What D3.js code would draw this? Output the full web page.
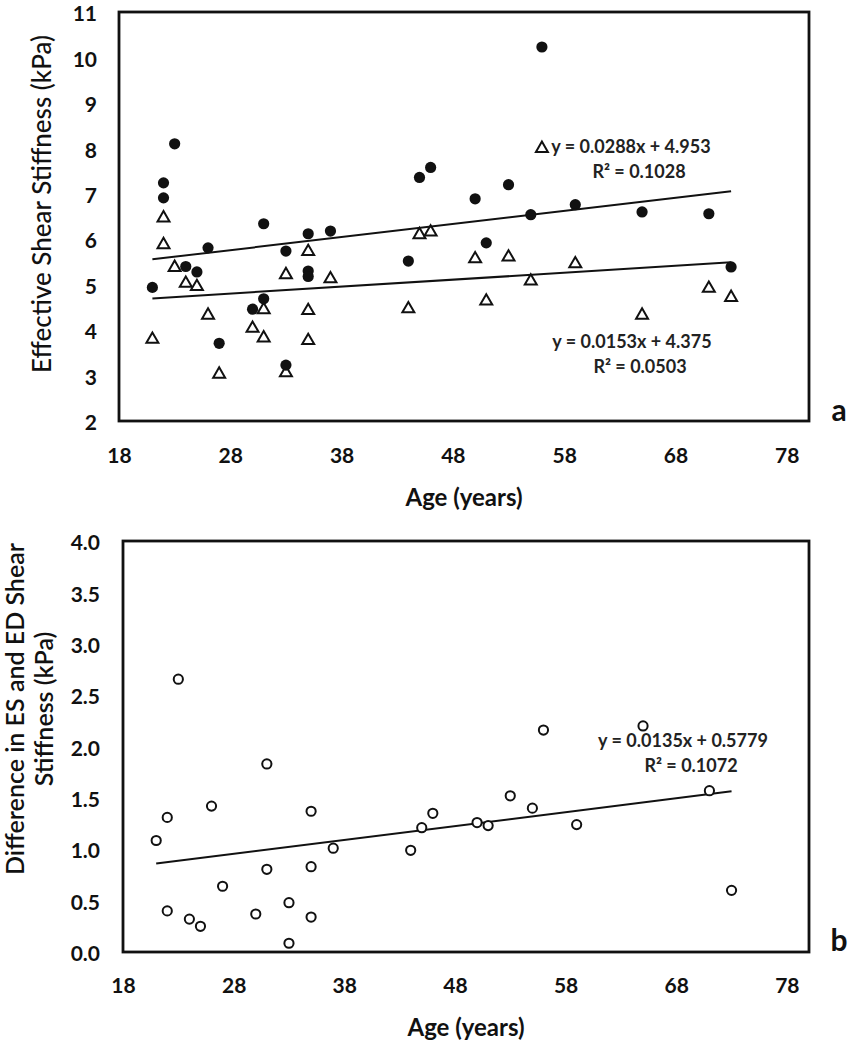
<!DOCTYPE html>
<html><head><meta charset="utf-8">
<script src="https://cdn.jsdelivr.net/npm/d3@7"></script>
<style>
html,body{margin:0;padding:0;background:#fff;}
svg{display:block;}
</style></head>
<body>
<svg id="c" width="860" height="1050"></svg>
<script>
// ---- data ----
const ages = [21,22,22,23,24,25,26,27,30,31,31,33,33,35,35,35,37,44,45,46,50,51,53,55,56,59,65,71,73];
const esStiffness = [4.94,7.24,6.91,8.10,5.40,5.28,5.81,3.71,4.46,6.34,4.69,5.74,3.23,6.12,5.30,5.18,6.18,5.52,7.36,7.58,6.89,5.92,7.20,6.54,10.23,6.76,6.60,6.56,5.39];
const edStiffness = [3.82,5.90,6.49,5.40,5.05,4.98,4.35,3.05,4.06,4.47,3.85,5.24,3.08,5.75,4.45,3.79,5.15,4.49,6.12,6.18,5.59,4.66,5.63,5.10,8.02,5.48,4.35,4.94,4.74];
const difference = [1.085,1.31,0.40,2.655,0.32,0.25,1.42,0.64,0.37,1.83,0.805,0.48,0.085,0.34,0.83,1.37,1.01,0.99,1.21,1.35,1.26,1.23,1.52,1.40,2.16,1.24,2.20,1.57,0.60];
const xTicks = [18,28,38,48,58,68,78];
const yTicksTop = [2,3,4,5,6,7,8,9,10,11];
const yTicksBottom = [0,0.5,1,1.5,2,2.5,3,3.5,4];
const fitES = {slope:0.0288, intercept:4.953, label1:"y = 0.0288x + 4.953", label2:"R² = 0.1028"};
const fitED = {slope:0.0153, intercept:4.375, label1:"y = 0.0153x + 4.375", label2:"R² = 0.0503"};
const fitDiff = {slope:0.0135, intercept:0.5779, label1:"y = 0.0135x + 0.5779", label2:"R² = 0.1072"};

const svg = d3.select("#c");
const FONT = "Lato, 'Open Sans', sans-serif";
const INK = "#111";

function panel(opt){
  const x = d3.scaleLinear().domain([18,80]).range([opt.left, opt.right]);
  const y = d3.scaleLinear().domain(opt.ydom).range([opt.bottom, opt.top]);
  const g = svg.append("g");
  const xa = g.append("g").attr("transform",`translate(0,${opt.xLabelY})`)
    .call(d3.axisBottom(x).tickValues(xTicks).tickSize(0).tickPadding(0).tickFormat(d3.format("d")));
  xa.select(".domain").remove();
  xa.selectAll("text").attr("font-family",FONT).attr("font-weight","bold").attr("font-size",21).attr("fill",INK).attr("dy","0.35em");
  const ya = g.append("g").attr("transform",`translate(${opt.yLabelX},2)`)
    .call(d3.axisLeft(y).tickValues(opt.yticks).tickSize(0).tickPadding(0).tickFormat(opt.yfmt));
  ya.select(".domain").remove();
  ya.selectAll("text").attr("font-family",FONT).attr("font-weight","bold").attr("font-size",21).attr("fill",INK);
  return {x,y,g};
}

function frame(g,opt){
  g.append("rect").attr("x",opt.left).attr("y",opt.top).attr("width",opt.right-opt.left).attr("height",opt.bottom-opt.top)
   .attr("fill","none").attr("stroke",INK).attr("stroke-width",2.8);
}

function trend(g,x,y,fit){
  const ext = d3.extent(ages);
  const pts = ext.map(a=>[a, fit.slope*a+fit.intercept]);
  g.append("path").attr("d", d3.line().x(d=>x(d[0])).y(d=>y(d[1]))(pts))
    .attr("stroke",INK).attr("stroke-width",2).attr("fill","none");
}

function eqLabel(g,cx,cy,fit){
  const t = g.append("text").attr("font-family",FONT).attr("font-weight","bold").attr("font-size",18).attr("fill","#222").attr("text-anchor","middle");
  t.append("tspan").attr("x",cx).attr("y",cy).text(fit.label1);
  t.append("tspan").attr("x",cx+8).attr("y",cy+25).text(fit.label2);
}

// ---- panel a ----
const A = {left:119,right:809,top:12,bottom:421,ydom:[2,11],yticks:yTicksTop,yfmt:d3.format("d"),xLabelY:456,yLabelX:97};
const pa = panel(A);
frame(pa.g,A);
const tri = d3.symbol().type(d3.symbolTriangle).size(62);
pa.g.append("g").selectAll("path").data(ages).join("path")
  .attr("d",tri).attr("transform",(d,i)=>`translate(${pa.x(d)},${pa.y(edStiffness[i])+1})`)
  .attr("fill","#fff").attr("stroke",INK).attr("stroke-width",2);
pa.g.append("g").selectAll("circle").data(ages).join("circle")
  .attr("cx",d=>pa.x(d)).attr("cy",(d,i)=>pa.y(esStiffness[i])).attr("r",5.6).attr("fill",INK);
trend(pa.g,pa.x,pa.y,fitES);
trend(pa.g,pa.x,pa.y,fitED);
eqLabel(pa.g,631,153,fitES);
eqLabel(pa.g,632,348,fitED);
const tcy = 204;
pa.g.append("text").attr("x",42).attr("y",tcy).attr("transform",`rotate(-90,42,${tcy})`)
  .attr("text-anchor","middle").attr("dy","0.35em").attr("font-family",FONT).attr("font-weight","500").attr("font-size",26).attr("fill",INK)
  .text("Effective Shear Stiffness (kPa)");
pa.g.append("text").attr("x",464).attr("y",498).attr("dy","0.35em").attr("text-anchor","middle")
  .attr("font-family",FONT).attr("font-weight","bold").attr("font-size",24).attr("fill",INK).text("Age (years)");
pa.g.append("text").attr("x",839).attr("y",410).attr("dy","0.35em").attr("text-anchor","middle")
  .attr("font-family",FONT).attr("font-weight","bold").attr("font-size",30).attr("fill",INK).text("a");

// ---- panel b ----
const B = {left:123,right:809,top:541,bottom:952,ydom:[0,4],yticks:yTicksBottom,yfmt:d3.format(".1f"),xLabelY:986,yLabelX:100};
const pb = panel(B);
frame(pb.g,B);
trend(pb.g,pb.x,pb.y,fitDiff);
pb.g.append("g").selectAll("circle").data(ages).join("circle")
  .attr("cx",d=>pb.x(d)).attr("cy",(d,i)=>pb.y(difference[i])).attr("r",4.6)
  .attr("fill","#fff").attr("stroke",INK).attr("stroke-width",2);
eqLabel(pb.g,683,747,fitDiff);
const by = 709;
const bt = pb.g.append("text").attr("transform",`rotate(-90)`).attr("text-anchor","middle")
  .attr("font-family",FONT).attr("font-weight","600").attr("font-size",25).attr("fill",INK);
bt.append("tspan").attr("x",-by).attr("y",24).text("Difference in ES and ED Shear");
bt.append("tspan").attr("x",-by).attr("y",53).text("Stiffness (kPa)");
pb.g.append("text").attr("x",466).attr("y",1028).attr("dy","0.35em").attr("text-anchor","middle")
  .attr("font-family",FONT).attr("font-weight","bold").attr("font-size",24).attr("fill",INK).text("Age (years)");
pb.g.append("text").attr("x",839).attr("y",940).attr("dy","0.35em").attr("text-anchor","middle")
  .attr("font-family",FONT).attr("font-weight","bold").attr("font-size",30).attr("fill",INK).text("b");
</script>
</body></html>
